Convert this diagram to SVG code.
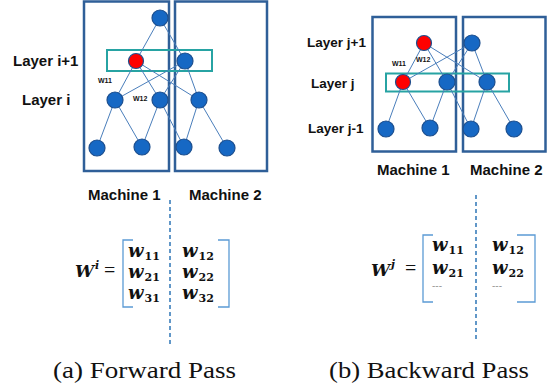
<svg xmlns="http://www.w3.org/2000/svg" width="547" height="390" viewBox="0 0 547 390">
<style>
.box{fill:none;stroke:#2f5f98;stroke-width:2.5}
.teal{fill:none;stroke:#27a3a3;stroke-width:2}
.edge{stroke:#4a7ebb;stroke-width:1;fill:none}
.n{fill:#1668c4;stroke:#1d4f8e;stroke-width:1.2}
.r{fill:#ff0000;stroke:#1d4f8e;stroke-width:1.2}
.lbl{font-family:"Liberation Sans",Arial,sans-serif;font-weight:bold;fill:#111}
.wl{font-family:"Liberation Sans",Arial,sans-serif;font-weight:bold;font-size:7px;fill:#111}
.dash{stroke:#2e75b6;stroke-width:1.5;stroke-dasharray:4 3}
.br{fill:none;stroke:#5b9bd5;stroke-width:1.3}
.mw{font-family:"DejaVu Serif",serif;font-weight:bold;font-style:italic;font-size:18px;fill:#111}
.ms{font-family:"DejaVu Serif",serif;font-weight:bold;font-style:normal;font-size:11px}
.mW{font-family:"DejaVu Serif",serif;font-weight:bold;font-style:italic;font-size:17px;fill:#111}
.sup{font-size:11px}
.eq{font-family:"Liberation Serif","Times New Roman",serif;font-size:20px;fill:#111}
.dots{font-family:"Liberation Sans",sans-serif;font-size:10px;fill:#999}
.cap{font-family:"Liberation Serif","Times New Roman",serif;font-size:24px;fill:#111}
</style>

<!-- Left panel: Forward pass -->
<g id="left-machine1"><rect class="box" x="84" y="1.5" width="85" height="169.5"/></g>
<g id="left-machine2"><rect class="box" x="175" y="1.5" width="92" height="169.5"/></g>
<g id="left-layer-highlight"><rect class="teal" x="107" y="50" width="105" height="21"/></g>

<g id="left-connectors">
<line class="edge" x1="160" y1="18" x2="136" y2="61"/>
<line class="edge" x1="160" y1="18" x2="185" y2="61"/>
<line class="edge" x1="136" y1="61" x2="115" y2="100"/>
<line class="edge" x1="136" y1="61" x2="160" y2="100"/>
<line class="edge" x1="136" y1="61" x2="199" y2="100"/>
<line class="edge" x1="185" y1="61" x2="115" y2="100"/>
<line class="edge" x1="185" y1="61" x2="160" y2="100"/>
<line class="edge" x1="185" y1="61" x2="199" y2="100"/>
<line class="edge" x1="115" y1="100" x2="97" y2="148"/>
<line class="edge" x1="115" y1="100" x2="142" y2="147"/>
<line class="edge" x1="160" y1="100" x2="142" y2="147"/>
<line class="edge" x1="160" y1="100" x2="184" y2="147"/>
<line class="edge" x1="199" y1="100" x2="184" y2="147"/>
<line class="edge" x1="199" y1="100" x2="227" y2="148"/>
</g>

<g id="L-top"><circle class="n" cx="160" cy="18" r="8"/></g>
<g id="L-i1-a"><circle class="r" cx="136" cy="61" r="7.5"/></g>
<g id="L-i1-b"><circle class="n" cx="185" cy="61" r="8"/></g>
<g id="L-i-a"><circle class="n" cx="115" cy="100" r="8"/></g>
<g id="L-i-b"><circle class="n" cx="160" cy="100" r="8"/></g>
<g id="L-i-c"><circle class="n" cx="199" cy="100" r="8"/></g>
<g id="L-b-a"><circle class="n" cx="97" cy="148" r="8"/></g>
<g id="L-b-b"><circle class="n" cx="142" cy="147" r="8"/></g>
<g id="L-b-c"><circle class="n" cx="184" cy="147" r="8"/></g>
<g id="L-b-d"><circle class="n" cx="227" cy="148" r="8"/></g>

<g id="left-labels">
<text class="lbl" x="13" y="66" font-size="15">Layer i+1</text>
<text class="lbl" x="22" y="105" font-size="15">Layer i</text>
<text class="wl" x="98" y="83">W11</text>
<text class="wl" x="133" y="101">W12</text>
<text class="lbl" x="88" y="200" font-size="15">Machine 1</text>
<text class="lbl" x="189" y="200" font-size="15">Machine 2</text>
</g>

<g id="left-matrix">
<line class="dash" x1="170" y1="200" x2="170" y2="345"/>
<text class="mW" x="75" y="277">W<tspan class="sup" dx="1" dy="-8">i</tspan></text>
<text class="eq" x="104" y="277">=</text>
<path class="br" d="M133,240 H123 V307 H133"/>
<path class="br" d="M218,240 H229 V307 H218"/>
<text class="mw" x="128" y="257">w<tspan class="ms" dx="1" dy="3">11</tspan></text>
<text class="mw" x="128" y="278">w<tspan class="ms" dx="1" dy="3">21</tspan></text>
<text class="mw" x="128" y="299">w<tspan class="ms" dx="1" dy="3">31</tspan></text>
<text class="mw" x="182" y="257">w<tspan class="ms" dx="1" dy="3">12</tspan></text>
<text class="mw" x="182" y="278">w<tspan class="ms" dx="1" dy="3">22</tspan></text>
<text class="mw" x="182" y="299">w<tspan class="ms" dx="1" dy="3">32</tspan></text>
<text class="cap" x="53" y="378" textLength="183" lengthAdjust="spacingAndGlyphs">(a) Forward Pass</text>
</g>

<!-- Right panel: Backward pass -->
<g id="right-machine1"><rect class="box" x="372.5" y="17" width="83.5" height="134.5"/></g>
<g id="right-machine2"><rect class="box" x="463" y="17" width="82.5" height="134.5"/></g>
<g id="right-layer-highlight"><rect class="teal" x="386" y="73.5" width="123" height="18"/></g>

<g id="right-connectors">
<line class="edge" x1="424" y1="43" x2="403" y2="82"/>
<line class="edge" x1="424" y1="43" x2="447" y2="82"/>
<line class="edge" x1="424" y1="43" x2="487" y2="82"/>
<line class="edge" x1="472" y1="43" x2="403" y2="82"/>
<line class="edge" x1="472" y1="43" x2="447" y2="82"/>
<line class="edge" x1="472" y1="43" x2="487" y2="82"/>
<line class="edge" x1="403" y1="82" x2="386" y2="129"/>
<line class="edge" x1="403" y1="82" x2="430" y2="128"/>
<line class="edge" x1="447" y1="82" x2="430" y2="128"/>
<line class="edge" x1="447" y1="82" x2="471" y2="129"/>
<line class="edge" x1="487" y1="82" x2="471" y2="129"/>
<line class="edge" x1="487" y1="82" x2="514" y2="129"/>
</g>

<g id="R-j1-a"><circle class="r" cx="424" cy="43" r="7.5"/></g>
<g id="R-j1-b"><circle class="n" cx="472" cy="43" r="8"/></g>
<g id="R-j-a"><circle class="r" cx="403" cy="82" r="7.5"/></g>
<g id="R-j-b"><circle class="n" cx="447" cy="82" r="8"/></g>
<g id="R-j-c"><circle class="n" cx="487" cy="82" r="8"/></g>
<g id="R-b-a"><circle class="n" cx="386" cy="129" r="8"/></g>
<g id="R-b-b"><circle class="n" cx="430" cy="128" r="8"/></g>
<g id="R-b-c"><circle class="n" cx="471" cy="129" r="8"/></g>
<g id="R-b-d"><circle class="n" cx="514" cy="129" r="8"/></g>

<g id="right-labels">
<text class="lbl" x="307" y="47" font-size="13.5">Layer j+1</text>
<text class="lbl" x="311" y="88" font-size="13.5">Layer j</text>
<text class="lbl" x="308" y="133" font-size="13.5">Layer j-1</text>
<text class="wl" x="392" y="66">W11</text>
<text class="wl" x="416" y="62">W12</text>
<text class="lbl" x="377" y="175" font-size="15">Machine 1</text>
<text class="lbl" x="470" y="175" font-size="15">Machine 2</text>
</g>

<g id="right-matrix">
<line class="dash" x1="476" y1="195" x2="476" y2="340"/>
<text class="mW" x="371" y="276">W<tspan class="sup" dx="1" dy="-8">j</tspan></text>
<text class="eq" x="405" y="275">=</text>
<path class="br" d="M433,235 H423 V302 H433"/>
<path class="br" d="M517,235 H535 V302 H517"/>
<text class="mw" x="432" y="251">w<tspan class="ms" dx="1" dy="3">11</tspan></text>
<text class="mw" x="432" y="274">w<tspan class="ms" dx="1" dy="3">21</tspan></text>
<text class="dots" x="432" y="289">---</text>
<text class="mw" x="492" y="251">w<tspan class="ms" dx="1" dy="3">12</tspan></text>
<text class="mw" x="492" y="274">w<tspan class="ms" dx="1" dy="3">22</tspan></text>
<text class="dots" x="492" y="289">---</text>
<text class="cap" x="329" y="378" textLength="200" lengthAdjust="spacingAndGlyphs">(b) Backward Pass</text>
</g>
</svg>
